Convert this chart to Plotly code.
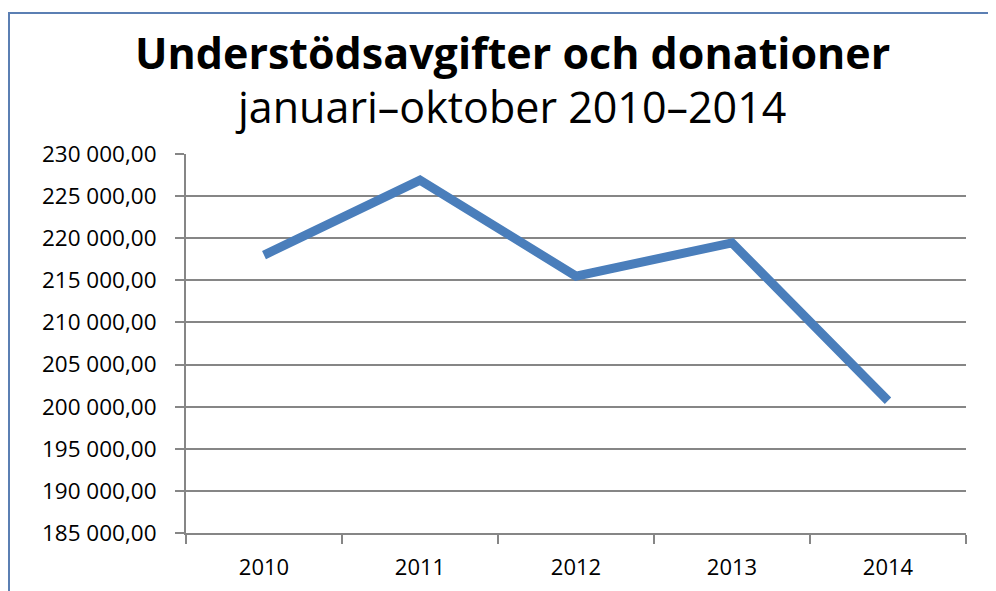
import plotly.graph_objects as go

years = ["2010", "2011", "2012", "2013", "2014"]
values = [218000, 226900, 215500, 219450, 200700]
title_text = "Understödsavgifter och donationer"
subtitle_text = "januari–oktober 2010–2014"

W, H = 996, 591
OFF = 7  # page body offset
# target plot box in screen pixels
X0, X1, Y0, Y1 = 185, 965, 153, 532
L, T = X0 - OFF, Y0 - OFF
R, B = W - (X1 - OFF), H - (Y1 - OFF)
pw, ph = X1 - X0, Y1 - Y0

def px(x):
    return (x - X0) / pw

def py(y):
    return (Y1 - y) / ph

fig = go.Figure()
fig.add_trace(go.Scatter(
    x=years, y=values, mode="lines",
    line=dict(color="#4A7EBB", width=9),
    showlegend=False, hoverinfo="x+y",
))

grid = "#868686"
fig.update_layout(
    width=W, height=H,
    margin=dict(l=L, r=R, t=T, b=B, autoexpand=False),
    paper_bgcolor="white", plot_bgcolor="white",
    separators=", ",
    font=dict(family="Open Sans, Liberation Sans, sans-serif", color="black"),
    xaxis=dict(
        type="category", range=[-0.5, 4.5], automargin=False,
        showgrid=False, showline=True, linecolor=grid, linewidth=2,
        ticks="outside", tickson="boundaries", ticklen=9, tickwidth=2, tickcolor=grid,
        tickfont=dict(size=22), zeroline=False, ticklabelstandoff=14,
    ),
    yaxis=dict(
        range=[185000, 230000], dtick=5000, tick0=185000, tickformat=",.2f",
        automargin=False,
        showgrid=True, gridcolor=grid, gridwidth=2,
        showline=True, linecolor=grid, linewidth=2,
        ticks="outside", ticklen=9, tickwidth=2, tickcolor=grid,
        tickfont=dict(size=22.5), zeroline=False, ticklabelstandoff=14,
    ),
    annotations=[
        dict(text=f"<b>{title_text}</b>", x=px(511), y=py(52), xref="paper", yref="paper",
             showarrow=False, xanchor="center", yanchor="middle",
             font=dict(size=43, family="Open Sans, sans-serif", color="black")),
        dict(text=subtitle_text, x=px(509), y=py(105), xref="paper", yref="paper",
             showarrow=False, xanchor="center", yanchor="middle",
             font=dict(size=43, family="Open Sans, sans-serif", color="black")),
    ],
    shapes=[
        dict(type="path", xref="paper", yref="paper",
             path=f"M {px(8)},{py(640)} L {px(8)},{py(12)} L {px(1030)},{py(12)}",
             line=dict(color="#5B7FB3", width=2), layer="below"),
    ],
)

fig.write_html("out.html")
